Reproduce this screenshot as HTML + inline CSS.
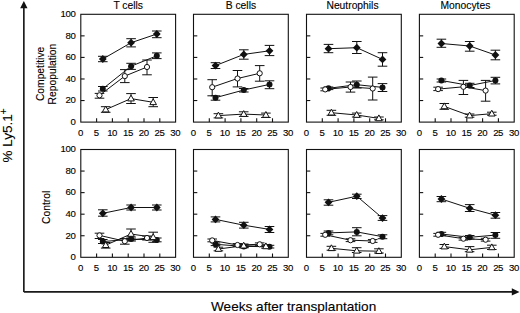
<!DOCTYPE html>
<html><head><meta charset="utf-8"><style>
html,body{margin:0;padding:0;background:#fff;}
body{width:520px;height:313px;overflow:hidden;position:relative;}
svg{position:absolute;left:0;top:0;}
text{font-family:"Liberation Sans",sans-serif;fill:#000;stroke:#000;stroke-width:0.12px;}
.tk{font-size:9.6px;letter-spacing:-0.4px;}
.ti{font-size:10.3px;}
.box{fill:none;stroke:#111;stroke-width:1.1;}
.ax{stroke:#111;stroke-width:1.1;}
.eb{fill:none;stroke:#111;stroke-width:1;}
.ln{fill:none;stroke:#111;stroke-width:1;}
.ot{fill:#fff;stroke:#111;stroke-width:1;}
.oc{fill:#fff;stroke:#111;stroke-width:1;}
.fc{fill:#111;stroke:none;}
.fd{fill:#111;stroke:none;}
.big{font-size:13.5px;}
.lab{font-size:10.3px;}
</style></head><body>
<svg width="520" height="313" viewBox="0 0 520 313">
<path d="M23.85 291.9V7.5M23.85 291.9H512" fill="none" stroke="#1a1a1a" stroke-width="1.65"/>
<path d="M23.85 1 L27.5 8.2 L20.2 8.2Z" fill="#111"/>
<path d="M519.5 291.95 L511.8 288.3 L511.8 295.6Z" fill="#111"/>
<text class="big" transform="translate(12.2,162.5) rotate(-90)">% Ly5.1<tspan dy="-5.1" dx="-0.2" font-size="10.5px">+</tspan></text>
<text class="lab" transform="translate(44.3,101.1) rotate(-90)">Competitive</text>
<text class="lab" transform="translate(56.1,104.4) rotate(-90)">Repopulation</text>
<text class="lab" transform="translate(49.9,224) rotate(-90)">Control</text>
<text class="big" x="211" y="310.9" style="font-size:13.6px">Weeks after transplantation</text>
<rect x="80.8" y="14.3" width="94.8" height="107.8" class="box"/>
<line x1="80.8" y1="100.54" x2="84.6" y2="100.54" class="ax"/>
<line x1="80.8" y1="78.98" x2="84.6" y2="78.98" class="ax"/>
<line x1="80.8" y1="57.42" x2="84.6" y2="57.42" class="ax"/>
<line x1="80.8" y1="35.86" x2="84.6" y2="35.86" class="ax"/>
<line x1="96.6" y1="122.1" x2="96.6" y2="118.3" class="ax"/>
<line x1="112.4" y1="122.1" x2="112.4" y2="118.3" class="ax"/>
<line x1="128.2" y1="122.1" x2="128.2" y2="118.3" class="ax"/>
<line x1="144" y1="122.1" x2="144" y2="118.3" class="ax"/>
<line x1="159.8" y1="122.1" x2="159.8" y2="118.3" class="ax"/>
<text x="80.5" y="135.6" class="tk" text-anchor="middle">0</text>
<text x="96.3" y="135.6" class="tk" text-anchor="middle">5</text>
<text x="112.1" y="135.6" class="tk" text-anchor="middle">10</text>
<text x="127.9" y="135.6" class="tk" text-anchor="middle">15</text>
<text x="143.7" y="135.6" class="tk" text-anchor="middle">20</text>
<text x="159.5" y="135.6" class="tk" text-anchor="middle">25</text>
<text x="175.3" y="135.6" class="tk" text-anchor="middle">30</text>
<text x="75.4" y="124.9" class="tk" text-anchor="end">0</text>
<text x="75.4" y="103.34" class="tk" text-anchor="end">20</text>
<text x="75.4" y="81.78" class="tk" text-anchor="end">40</text>
<text x="75.4" y="60.22" class="tk" text-anchor="end">60</text>
<text x="75.4" y="38.66" class="tk" text-anchor="end">80</text>
<text x="75.4" y="17.1" class="tk" text-anchor="end">100</text>
<text x="128.2" y="8.7" class="ti" text-anchor="middle">T cells</text>
<rect x="193.5" y="14.3" width="94.8" height="107.8" class="box"/>
<line x1="193.5" y1="100.54" x2="197.3" y2="100.54" class="ax"/>
<line x1="193.5" y1="78.98" x2="197.3" y2="78.98" class="ax"/>
<line x1="193.5" y1="57.42" x2="197.3" y2="57.42" class="ax"/>
<line x1="193.5" y1="35.86" x2="197.3" y2="35.86" class="ax"/>
<line x1="209.3" y1="122.1" x2="209.3" y2="118.3" class="ax"/>
<line x1="225.1" y1="122.1" x2="225.1" y2="118.3" class="ax"/>
<line x1="240.9" y1="122.1" x2="240.9" y2="118.3" class="ax"/>
<line x1="256.7" y1="122.1" x2="256.7" y2="118.3" class="ax"/>
<line x1="272.5" y1="122.1" x2="272.5" y2="118.3" class="ax"/>
<text x="193.2" y="135.6" class="tk" text-anchor="middle">0</text>
<text x="209" y="135.6" class="tk" text-anchor="middle">5</text>
<text x="224.8" y="135.6" class="tk" text-anchor="middle">10</text>
<text x="240.6" y="135.6" class="tk" text-anchor="middle">15</text>
<text x="256.4" y="135.6" class="tk" text-anchor="middle">20</text>
<text x="272.2" y="135.6" class="tk" text-anchor="middle">25</text>
<text x="288" y="135.6" class="tk" text-anchor="middle">30</text>
<text x="240.9" y="8.7" class="ti" text-anchor="middle">B cells</text>
<rect x="306.5" y="14.3" width="94.8" height="107.8" class="box"/>
<line x1="306.5" y1="100.54" x2="310.3" y2="100.54" class="ax"/>
<line x1="306.5" y1="78.98" x2="310.3" y2="78.98" class="ax"/>
<line x1="306.5" y1="57.42" x2="310.3" y2="57.42" class="ax"/>
<line x1="306.5" y1="35.86" x2="310.3" y2="35.86" class="ax"/>
<line x1="322.3" y1="122.1" x2="322.3" y2="118.3" class="ax"/>
<line x1="338.1" y1="122.1" x2="338.1" y2="118.3" class="ax"/>
<line x1="353.9" y1="122.1" x2="353.9" y2="118.3" class="ax"/>
<line x1="369.7" y1="122.1" x2="369.7" y2="118.3" class="ax"/>
<line x1="385.5" y1="122.1" x2="385.5" y2="118.3" class="ax"/>
<text x="306.2" y="135.6" class="tk" text-anchor="middle">0</text>
<text x="322" y="135.6" class="tk" text-anchor="middle">5</text>
<text x="337.8" y="135.6" class="tk" text-anchor="middle">10</text>
<text x="353.6" y="135.6" class="tk" text-anchor="middle">15</text>
<text x="369.4" y="135.6" class="tk" text-anchor="middle">20</text>
<text x="385.2" y="135.6" class="tk" text-anchor="middle">25</text>
<text x="401" y="135.6" class="tk" text-anchor="middle">30</text>
<text x="352.5" y="8.7" class="ti" text-anchor="middle">Neutrophils</text>
<rect x="419.4" y="14.3" width="94.8" height="107.8" class="box"/>
<line x1="419.4" y1="100.54" x2="423.2" y2="100.54" class="ax"/>
<line x1="419.4" y1="78.98" x2="423.2" y2="78.98" class="ax"/>
<line x1="419.4" y1="57.42" x2="423.2" y2="57.42" class="ax"/>
<line x1="419.4" y1="35.86" x2="423.2" y2="35.86" class="ax"/>
<line x1="435.2" y1="122.1" x2="435.2" y2="118.3" class="ax"/>
<line x1="451" y1="122.1" x2="451" y2="118.3" class="ax"/>
<line x1="466.8" y1="122.1" x2="466.8" y2="118.3" class="ax"/>
<line x1="482.6" y1="122.1" x2="482.6" y2="118.3" class="ax"/>
<line x1="498.4" y1="122.1" x2="498.4" y2="118.3" class="ax"/>
<text x="419.1" y="135.6" class="tk" text-anchor="middle">0</text>
<text x="434.9" y="135.6" class="tk" text-anchor="middle">5</text>
<text x="450.7" y="135.6" class="tk" text-anchor="middle">10</text>
<text x="466.5" y="135.6" class="tk" text-anchor="middle">15</text>
<text x="482.3" y="135.6" class="tk" text-anchor="middle">20</text>
<text x="498.1" y="135.6" class="tk" text-anchor="middle">25</text>
<text x="513.9" y="135.6" class="tk" text-anchor="middle">30</text>
<text x="465.4" y="8.7" class="ti" text-anchor="middle">Monocytes</text>
<rect x="80.8" y="149.5" width="94.8" height="107.8" class="box"/>
<line x1="80.8" y1="235.74" x2="84.6" y2="235.74" class="ax"/>
<line x1="80.8" y1="214.18" x2="84.6" y2="214.18" class="ax"/>
<line x1="80.8" y1="192.62" x2="84.6" y2="192.62" class="ax"/>
<line x1="80.8" y1="171.06" x2="84.6" y2="171.06" class="ax"/>
<line x1="96.6" y1="257.3" x2="96.6" y2="253.5" class="ax"/>
<line x1="112.4" y1="257.3" x2="112.4" y2="253.5" class="ax"/>
<line x1="128.2" y1="257.3" x2="128.2" y2="253.5" class="ax"/>
<line x1="144" y1="257.3" x2="144" y2="253.5" class="ax"/>
<line x1="159.8" y1="257.3" x2="159.8" y2="253.5" class="ax"/>
<text x="80.5" y="270.8" class="tk" text-anchor="middle">0</text>
<text x="96.3" y="270.8" class="tk" text-anchor="middle">5</text>
<text x="112.1" y="270.8" class="tk" text-anchor="middle">10</text>
<text x="127.9" y="270.8" class="tk" text-anchor="middle">15</text>
<text x="143.7" y="270.8" class="tk" text-anchor="middle">20</text>
<text x="159.5" y="270.8" class="tk" text-anchor="middle">25</text>
<text x="175.3" y="270.8" class="tk" text-anchor="middle">30</text>
<text x="75.4" y="260.1" class="tk" text-anchor="end">0</text>
<text x="75.4" y="238.54" class="tk" text-anchor="end">20</text>
<text x="75.4" y="216.98" class="tk" text-anchor="end">40</text>
<text x="75.4" y="195.42" class="tk" text-anchor="end">60</text>
<text x="75.4" y="173.86" class="tk" text-anchor="end">80</text>
<text x="75.4" y="152.3" class="tk" text-anchor="end">100</text>
<rect x="193.5" y="149.5" width="94.8" height="107.8" class="box"/>
<line x1="193.5" y1="235.74" x2="197.3" y2="235.74" class="ax"/>
<line x1="193.5" y1="214.18" x2="197.3" y2="214.18" class="ax"/>
<line x1="193.5" y1="192.62" x2="197.3" y2="192.62" class="ax"/>
<line x1="193.5" y1="171.06" x2="197.3" y2="171.06" class="ax"/>
<line x1="209.3" y1="257.3" x2="209.3" y2="253.5" class="ax"/>
<line x1="225.1" y1="257.3" x2="225.1" y2="253.5" class="ax"/>
<line x1="240.9" y1="257.3" x2="240.9" y2="253.5" class="ax"/>
<line x1="256.7" y1="257.3" x2="256.7" y2="253.5" class="ax"/>
<line x1="272.5" y1="257.3" x2="272.5" y2="253.5" class="ax"/>
<text x="193.2" y="270.8" class="tk" text-anchor="middle">0</text>
<text x="209" y="270.8" class="tk" text-anchor="middle">5</text>
<text x="224.8" y="270.8" class="tk" text-anchor="middle">10</text>
<text x="240.6" y="270.8" class="tk" text-anchor="middle">15</text>
<text x="256.4" y="270.8" class="tk" text-anchor="middle">20</text>
<text x="272.2" y="270.8" class="tk" text-anchor="middle">25</text>
<text x="288" y="270.8" class="tk" text-anchor="middle">30</text>
<rect x="306.5" y="149.5" width="94.8" height="107.8" class="box"/>
<line x1="306.5" y1="235.74" x2="310.3" y2="235.74" class="ax"/>
<line x1="306.5" y1="214.18" x2="310.3" y2="214.18" class="ax"/>
<line x1="306.5" y1="192.62" x2="310.3" y2="192.62" class="ax"/>
<line x1="306.5" y1="171.06" x2="310.3" y2="171.06" class="ax"/>
<line x1="322.3" y1="257.3" x2="322.3" y2="253.5" class="ax"/>
<line x1="338.1" y1="257.3" x2="338.1" y2="253.5" class="ax"/>
<line x1="353.9" y1="257.3" x2="353.9" y2="253.5" class="ax"/>
<line x1="369.7" y1="257.3" x2="369.7" y2="253.5" class="ax"/>
<line x1="385.5" y1="257.3" x2="385.5" y2="253.5" class="ax"/>
<text x="306.2" y="270.8" class="tk" text-anchor="middle">0</text>
<text x="322" y="270.8" class="tk" text-anchor="middle">5</text>
<text x="337.8" y="270.8" class="tk" text-anchor="middle">10</text>
<text x="353.6" y="270.8" class="tk" text-anchor="middle">15</text>
<text x="369.4" y="270.8" class="tk" text-anchor="middle">20</text>
<text x="385.2" y="270.8" class="tk" text-anchor="middle">25</text>
<text x="401" y="270.8" class="tk" text-anchor="middle">30</text>
<rect x="419.4" y="149.5" width="94.8" height="107.8" class="box"/>
<line x1="419.4" y1="235.74" x2="423.2" y2="235.74" class="ax"/>
<line x1="419.4" y1="214.18" x2="423.2" y2="214.18" class="ax"/>
<line x1="419.4" y1="192.62" x2="423.2" y2="192.62" class="ax"/>
<line x1="419.4" y1="171.06" x2="423.2" y2="171.06" class="ax"/>
<line x1="435.2" y1="257.3" x2="435.2" y2="253.5" class="ax"/>
<line x1="451" y1="257.3" x2="451" y2="253.5" class="ax"/>
<line x1="466.8" y1="257.3" x2="466.8" y2="253.5" class="ax"/>
<line x1="482.6" y1="257.3" x2="482.6" y2="253.5" class="ax"/>
<line x1="498.4" y1="257.3" x2="498.4" y2="253.5" class="ax"/>
<text x="419.1" y="270.8" class="tk" text-anchor="middle">0</text>
<text x="434.9" y="270.8" class="tk" text-anchor="middle">5</text>
<text x="450.7" y="270.8" class="tk" text-anchor="middle">10</text>
<text x="466.5" y="270.8" class="tk" text-anchor="middle">15</text>
<text x="482.3" y="270.8" class="tk" text-anchor="middle">20</text>
<text x="498.1" y="270.8" class="tk" text-anchor="middle">25</text>
<text x="513.9" y="270.8" class="tk" text-anchor="middle">30</text>
<path d="M105.7 106.7V112.3M100.9 106.7H110.5M100.9 112.3H110.5" class="eb"/>
<path d="M131 93.6V103.5M126.2 93.6H135.8M126.2 103.5H135.8" class="eb"/>
<path d="M153.2 97.5V106.7M148.4 97.5H158M148.4 106.7H158" class="eb"/>
<path d="M105.7 109.6 L131 98.6 L153.2 102.3" class="ln"/>
<path d="M99.5 93.4V98.2M94.7 93.4H104.3M94.7 98.2H104.3" class="eb"/>
<path d="M124.8 69.6V82.6M120 69.6H129.6M120 82.6H129.6" class="eb"/>
<path d="M147 60V74.8M142.2 60H151.8M142.2 74.8H151.8" class="eb"/>
<path d="M99.5 95.3 L124.8 76.1 L147 67" class="ln"/>
<path d="M102.8 86.5V91M98 86.5H107.6M98 91H107.6" class="eb"/>
<path d="M131.1 63.3V69.4M126.3 63.3H135.9M126.3 69.4H135.9" class="eb"/>
<path d="M156.8 52.9V58.6M152 52.9H161.6M152 58.6H161.6" class="eb"/>
<path d="M102.8 88.8 L131.1 66.2 L156.8 55.8" class="ln"/>
<path d="M102.8 56.3V61.7M98 56.3H107.6M98 61.7H107.6" class="eb"/>
<path d="M131.1 38.7V46.9M126.3 38.7H135.9M126.3 46.9H135.9" class="eb"/>
<path d="M156.8 31V37.7M152 31H161.6M152 37.7H161.6" class="eb"/>
<path d="M102.8 59 L131.1 42.7 L156.8 34" class="ln"/>
<circle cx="102.8" cy="88.8" r="3.0" class="fc"/>
<circle cx="131.1" cy="66.2" r="3.0" class="fc"/>
<circle cx="156.8" cy="55.8" r="3.0" class="fc"/>
<circle cx="99.5" cy="95.3" r="2.6" class="oc"/>
<circle cx="124.8" cy="76.1" r="2.6" class="oc"/>
<circle cx="147" cy="67" r="2.6" class="oc"/>
<path d="M105.7 106.12L109 111.92L102.4 111.92Z" class="ot"/>
<path d="M131 95.12L134.3 100.92L127.7 100.92Z" class="ot"/>
<path d="M153.2 98.82L156.5 104.62L149.9 104.62Z" class="ot"/>
<path d="M102.8 55.1L106.7 59L102.8 62.9L98.9 59Z" class="fd"/>
<path d="M131.1 38.8L135 42.7L131.1 46.6L127.2 42.7Z" class="fd"/>
<path d="M156.8 30.1L160.7 34L156.8 37.9L152.9 34Z" class="fd"/>
<path d="M218.4 113.7V117.9M213.6 113.7H223.2M213.6 117.9H223.2" class="eb"/>
<path d="M243.7 111.8V116.4M238.9 111.8H248.5M238.9 116.4H248.5" class="eb"/>
<path d="M265.9 113.1V117.5M261.1 113.1H270.7M261.1 117.5H270.7" class="eb"/>
<path d="M218.4 115.6 L243.7 114.1 L265.9 115" class="ln"/>
<path d="M212.2 79.7V95.8M207.4 79.7H217M207.4 95.8H217" class="eb"/>
<path d="M237.5 70.5V86.9M232.7 70.5H242.3M232.7 86.9H242.3" class="eb"/>
<path d="M259.7 65.6V81.2M254.9 65.6H264.5M254.9 81.2H264.5" class="eb"/>
<path d="M212.2 87.2 L237.5 78.5 L259.7 73.3" class="ln"/>
<path d="M215.5 95.8V100.2M210.7 95.8H220.3M210.7 100.2H220.3" class="eb"/>
<path d="M243.8 88.5V92M239 88.5H248.6M239 92H248.6" class="eb"/>
<path d="M269.5 80.8V88.7M264.7 80.8H274.3M264.7 88.7H274.3" class="eb"/>
<path d="M215.5 97.7 L243.8 90 L269.5 84.4" class="ln"/>
<path d="M215.5 62.7V68.5M210.7 62.7H220.3M210.7 68.5H220.3" class="eb"/>
<path d="M243.8 49.8V59.2M239 49.8H248.6M239 59.2H248.6" class="eb"/>
<path d="M269.5 45.4V55.6M264.7 45.4H274.3M264.7 55.6H274.3" class="eb"/>
<path d="M215.5 65.6 L243.8 54.4 L269.5 50.8" class="ln"/>
<circle cx="215.5" cy="97.7" r="3.0" class="fc"/>
<circle cx="243.8" cy="90" r="3.0" class="fc"/>
<circle cx="269.5" cy="84.4" r="3.0" class="fc"/>
<circle cx="212.2" cy="87.2" r="2.6" class="oc"/>
<circle cx="237.5" cy="78.5" r="2.6" class="oc"/>
<circle cx="259.7" cy="73.3" r="2.6" class="oc"/>
<path d="M218.4 112.12L221.7 117.92L215.1 117.92Z" class="ot"/>
<path d="M243.7 110.62L247 116.42L240.4 116.42Z" class="ot"/>
<path d="M265.9 111.52L269.2 117.32L262.6 117.32Z" class="ot"/>
<path d="M215.5 61.7L219.4 65.6L215.5 69.5L211.6 65.6Z" class="fd"/>
<path d="M243.8 50.5L247.7 54.4L243.8 58.3L239.9 54.4Z" class="fd"/>
<path d="M269.5 46.9L273.4 50.8L269.5 54.7L265.6 50.8Z" class="fd"/>
<path d="M331.4 110.3V115.3M326.6 110.3H336.2M326.6 115.3H336.2" class="eb"/>
<path d="M356.7 113.1V117M351.9 113.1H361.5M351.9 117H361.5" class="eb"/>
<path d="M378.9 117V119.8M374.1 117H383.7M374.1 119.8H383.7" class="eb"/>
<path d="M331.4 112.7 L356.7 115 L378.9 118.4" class="ln"/>
<path d="M325.2 88V90.8M320.4 88H330M320.4 90.8H330" class="eb"/>
<path d="M350.5 82V92.1M345.7 82H355.3M345.7 92.1H355.3" class="eb"/>
<path d="M372.7 77.1V100M367.9 77.1H377.5M367.9 100H377.5" class="eb"/>
<path d="M325.2 89.4 L350.5 87 L372.7 88.5" class="ln"/>
<path d="M328.5 87V89.6M323.7 87H333.3M323.7 89.6H333.3" class="eb"/>
<path d="M356.8 81V88M352 81H361.6M352 88H361.6" class="eb"/>
<path d="M382.5 83.6V91.5M377.7 83.6H387.3M377.7 91.5H387.3" class="eb"/>
<path d="M328.5 88.3 L356.8 84.7 L382.5 87.4" class="ln"/>
<path d="M328.5 44.4V52.7M323.7 44.4H333.3M323.7 52.7H333.3" class="eb"/>
<path d="M356.8 41.5V53.5M352 41.5H361.6M352 53.5H361.6" class="eb"/>
<path d="M382.5 52.7V66.2M377.7 52.7H387.3M377.7 66.2H387.3" class="eb"/>
<path d="M328.5 48.7 L356.8 47.7 L382.5 59.4" class="ln"/>
<circle cx="328.5" cy="88.3" r="3.0" class="fc"/>
<circle cx="356.8" cy="84.7" r="3.0" class="fc"/>
<circle cx="382.5" cy="87.4" r="3.0" class="fc"/>
<circle cx="325.2" cy="89.4" r="2.6" class="oc"/>
<circle cx="350.5" cy="87" r="2.6" class="oc"/>
<circle cx="372.7" cy="88.5" r="2.6" class="oc"/>
<path d="M331.4 109.22L334.7 115.02L328.1 115.02Z" class="ot"/>
<path d="M356.7 111.52L360 117.32L353.4 117.32Z" class="ot"/>
<path d="M378.9 114.92L382.2 120.72L375.6 120.72Z" class="ot"/>
<path d="M328.5 44.8L332.4 48.7L328.5 52.6L324.6 48.7Z" class="fd"/>
<path d="M356.8 43.8L360.7 47.7L356.8 51.6L352.9 47.7Z" class="fd"/>
<path d="M382.5 55.5L386.4 59.4L382.5 63.3L378.6 59.4Z" class="fd"/>
<path d="M444.3 103.5V109.3M439.5 103.5H449.1M439.5 109.3H449.1" class="eb"/>
<path d="M469.6 114V117.2M464.8 114H474.4M464.8 117.2H474.4" class="eb"/>
<path d="M491.8 112.2V115.2M487 112.2H496.6M487 115.2H496.6" class="eb"/>
<path d="M444.3 106.4 L469.6 115.6 L491.8 113.7" class="ln"/>
<path d="M438.1 87.2V90.6M433.3 87.2H442.9M433.3 90.6H442.9" class="eb"/>
<path d="M463.4 80.4V94.5M458.6 80.4H468.2M458.6 94.5H468.2" class="eb"/>
<path d="M485.6 80.4V101.2M480.8 80.4H490.4M480.8 101.2H490.4" class="eb"/>
<path d="M438.1 89.1 L463.4 86.8 L485.6 90.6" class="ln"/>
<path d="M441.4 79V82M436.6 79H446.2M436.6 82H446.2" class="eb"/>
<path d="M469.7 83.3V87.5M464.9 83.3H474.5M464.9 87.5H474.5" class="eb"/>
<path d="M495.4 77.3V83.9M490.6 77.3H500.2M490.6 83.9H500.2" class="eb"/>
<path d="M441.4 80.5 L469.7 85.5 L495.4 80.5" class="ln"/>
<path d="M441.4 39.2V47.3M436.6 39.2H446.2M436.6 47.3H446.2" class="eb"/>
<path d="M469.7 41.5V51.2M464.9 41.5H474.5M464.9 51.2H474.5" class="eb"/>
<path d="M495.4 50.2V59.8M490.6 50.2H500.2M490.6 59.8H500.2" class="eb"/>
<path d="M441.4 43.5 L469.7 46 L495.4 55" class="ln"/>
<circle cx="441.4" cy="80.5" r="3.0" class="fc"/>
<circle cx="469.7" cy="85.5" r="3.0" class="fc"/>
<circle cx="495.4" cy="80.5" r="3.0" class="fc"/>
<circle cx="438.1" cy="89.1" r="2.6" class="oc"/>
<circle cx="463.4" cy="86.8" r="2.6" class="oc"/>
<circle cx="485.6" cy="90.6" r="2.6" class="oc"/>
<path d="M444.3 102.92L447.6 108.72L441 108.72Z" class="ot"/>
<path d="M469.6 112.12L472.9 117.92L466.3 117.92Z" class="ot"/>
<path d="M491.8 110.22L495.1 116.02L488.5 116.02Z" class="ot"/>
<path d="M441.4 39.6L445.3 43.5L441.4 47.4L437.5 43.5Z" class="fd"/>
<path d="M469.7 42.1L473.6 46L469.7 49.9L465.8 46Z" class="fd"/>
<path d="M495.4 51.1L499.3 55L495.4 58.9L491.5 55Z" class="fd"/>
<path d="M105.7 242.5V248.1M100.9 242.5H110.5M100.9 248.1H110.5" class="eb"/>
<path d="M131 229V239M126.2 229H135.8M126.2 239H135.8" class="eb"/>
<path d="M153.2 232.2V242.3M148.4 232.2H158M148.4 242.3H158" class="eb"/>
<path d="M105.7 245.2 L131 234 L153.2 237.3" class="ln"/>
<path d="M99.5 233.2V238.5M94.7 233.2H104.3M94.7 238.5H104.3" class="eb"/>
<path d="M124.8 238.5V244.2M120 238.5H129.6M120 244.2H129.6" class="eb"/>
<path d="M147 236V240M142.2 236H151.8M142.2 240H151.8" class="eb"/>
<path d="M99.5 235.4 L124.8 241.2 L147 238" class="ln"/>
<path d="M102.8 239.5V243.5M98 239.5H107.6M98 243.5H107.6" class="eb"/>
<path d="M131.1 237V241M126.3 237H135.9M126.3 241H135.9" class="eb"/>
<path d="M156.8 238V241.8M152 238H161.6M152 241.8H161.6" class="eb"/>
<path d="M102.8 241.6 L131.1 239.1 L156.8 239.9" class="ln"/>
<path d="M102.8 209.8V216.2M98 209.8H107.6M98 216.2H107.6" class="eb"/>
<path d="M131.1 205V210M126.3 205H135.9M126.3 210H135.9" class="eb"/>
<path d="M156.8 205V210M152 205H161.6M152 210H161.6" class="eb"/>
<path d="M102.8 213.3 L131.1 207.5 L156.8 207.5" class="ln"/>
<circle cx="102.8" cy="241.6" r="3.0" class="fc"/>
<circle cx="131.1" cy="239.1" r="3.0" class="fc"/>
<circle cx="156.8" cy="239.9" r="3.0" class="fc"/>
<circle cx="99.5" cy="235.4" r="2.6" class="oc"/>
<circle cx="124.8" cy="241.2" r="2.6" class="oc"/>
<circle cx="147" cy="238" r="2.6" class="oc"/>
<path d="M105.7 241.72L109 247.52L102.4 247.52Z" class="ot"/>
<path d="M131 230.52L134.3 236.32L127.7 236.32Z" class="ot"/>
<path d="M153.2 233.82L156.5 239.62L149.9 239.62Z" class="ot"/>
<path d="M102.8 209.4L106.7 213.3L102.8 217.2L98.9 213.3Z" class="fd"/>
<path d="M131.1 203.6L135 207.5L131.1 211.4L127.2 207.5Z" class="fd"/>
<path d="M156.8 203.6L160.7 207.5L156.8 211.4L152.9 207.5Z" class="fd"/>
<path d="M218.4 247.2V250.8M213.6 247.2H223.2M213.6 250.8H223.2" class="eb"/>
<path d="M243.7 244V247.4M238.9 244H248.5M238.9 247.4H248.5" class="eb"/>
<path d="M265.9 244.7V248.1M261.1 244.7H270.7M261.1 248.1H270.7" class="eb"/>
<path d="M218.4 249 L243.7 245.7 L265.9 246.4" class="ln"/>
<path d="M212.2 239V241.8M207.4 239H217M207.4 241.8H217" class="eb"/>
<path d="M237.5 243.6V246.4M232.7 243.6H242.3M232.7 246.4H242.3" class="eb"/>
<path d="M259.7 242.9V245.7M254.9 242.9H264.5M254.9 245.7H264.5" class="eb"/>
<path d="M212.2 240.4 L237.5 245 L259.7 244.3" class="ln"/>
<path d="M215.5 243V245.6M210.7 243H220.3M210.7 245.6H220.3" class="eb"/>
<path d="M243.8 245V247.8M239 245H248.6M239 247.8H248.6" class="eb"/>
<path d="M269.5 245.3V248M264.7 245.3H274.3M264.7 248H274.3" class="eb"/>
<path d="M215.5 244.3 L243.8 246.4 L269.5 246.7" class="ln"/>
<path d="M215.5 216.9V221.9M210.7 216.9H220.3M210.7 221.9H220.3" class="eb"/>
<path d="M243.8 222.3V228.1M239 222.3H248.6M239 228.1H248.6" class="eb"/>
<path d="M269.5 226.5V232.5M264.7 226.5H274.3M264.7 232.5H274.3" class="eb"/>
<path d="M215.5 219.4 L243.8 225.2 L269.5 229.4" class="ln"/>
<circle cx="215.5" cy="244.3" r="3.0" class="fc"/>
<circle cx="243.8" cy="246.4" r="3.0" class="fc"/>
<circle cx="269.5" cy="246.7" r="3.0" class="fc"/>
<circle cx="212.2" cy="240.4" r="2.6" class="oc"/>
<circle cx="237.5" cy="245" r="2.6" class="oc"/>
<circle cx="259.7" cy="244.3" r="2.6" class="oc"/>
<path d="M218.4 245.52L221.7 251.32L215.1 251.32Z" class="ot"/>
<path d="M243.7 242.22L247 248.02L240.4 248.02Z" class="ot"/>
<path d="M265.9 242.92L269.2 248.72L262.6 248.72Z" class="ot"/>
<path d="M215.5 215.5L219.4 219.4L215.5 223.3L211.6 219.4Z" class="fd"/>
<path d="M243.8 221.3L247.7 225.2L243.8 229.1L239.9 225.2Z" class="fd"/>
<path d="M269.5 225.5L273.4 229.4L269.5 233.3L265.6 229.4Z" class="fd"/>
<path d="M331.4 246.3V250.2M326.6 246.3H336.2M326.6 250.2H336.2" class="eb"/>
<path d="M356.7 247.7V252.5M351.9 247.7H361.5M351.9 252.5H361.5" class="eb"/>
<path d="M378.9 248.8V253M374.1 248.8H383.7M374.1 253H383.7" class="eb"/>
<path d="M331.4 248.3 L356.7 250.8 L378.9 251.2" class="ln"/>
<path d="M325.2 233.4V236.2M320.4 233.4H330M320.4 236.2H330" class="eb"/>
<path d="M350.5 238.8V241.6M345.7 238.8H355.3M345.7 241.6H355.3" class="eb"/>
<path d="M372.7 239.6V242.4M367.9 239.6H377.5M367.9 242.4H377.5" class="eb"/>
<path d="M325.2 234.8 L350.5 240.2 L372.7 241" class="ln"/>
<path d="M328.5 231V234.8M323.7 231H333.3M323.7 234.8H333.3" class="eb"/>
<path d="M356.8 227.7V235.8M352 227.7H361.6M352 235.8H361.6" class="eb"/>
<path d="M382.5 234.8V238.7M377.7 234.8H387.3M377.7 238.7H387.3" class="eb"/>
<path d="M328.5 232.9 L356.8 231.9 L382.5 236.7" class="ln"/>
<path d="M328.5 199.8V205.2M323.7 199.8H333.3M323.7 205.2H333.3" class="eb"/>
<path d="M356.8 194.2V198.5M352 194.2H361.6M352 198.5H361.6" class="eb"/>
<path d="M382.5 215.6V220.4M377.7 215.6H387.3M377.7 220.4H387.3" class="eb"/>
<path d="M328.5 202.3 L356.8 196.2 L382.5 218.1" class="ln"/>
<circle cx="328.5" cy="232.9" r="3.0" class="fc"/>
<circle cx="356.8" cy="231.9" r="3.0" class="fc"/>
<circle cx="382.5" cy="236.7" r="3.0" class="fc"/>
<circle cx="325.2" cy="234.8" r="2.6" class="oc"/>
<circle cx="350.5" cy="240.2" r="2.6" class="oc"/>
<circle cx="372.7" cy="241" r="2.6" class="oc"/>
<path d="M331.4 244.82L334.7 250.62L328.1 250.62Z" class="ot"/>
<path d="M356.7 247.32L360 253.12L353.4 253.12Z" class="ot"/>
<path d="M378.9 247.72L382.2 253.52L375.6 253.52Z" class="ot"/>
<path d="M328.5 198.4L332.4 202.3L328.5 206.2L324.6 202.3Z" class="fd"/>
<path d="M356.8 192.3L360.7 196.2L356.8 200.1L352.9 196.2Z" class="fd"/>
<path d="M382.5 214.2L386.4 218.1L382.5 222L378.6 218.1Z" class="fd"/>
<path d="M444.3 244.5V248.4M439.5 244.5H449.1M439.5 248.4H449.1" class="eb"/>
<path d="M469.6 246.6V251.7M464.8 246.6H474.4M464.8 251.7H474.4" class="eb"/>
<path d="M491.8 245.2V249.5M487 245.2H496.6M487 249.5H496.6" class="eb"/>
<path d="M444.3 246.6 L469.6 249.8 L491.8 247.4" class="ln"/>
<path d="M438.1 233.4V236.2M433.3 233.4H442.9M433.3 236.2H442.9" class="eb"/>
<path d="M463.4 237.3V240.1M458.6 237.3H468.2M458.6 240.1H468.2" class="eb"/>
<path d="M485.6 238.3V241.1M480.8 238.3H490.4M480.8 241.1H490.4" class="eb"/>
<path d="M438.1 234.8 L463.4 238.7 L485.6 239.7" class="ln"/>
<path d="M441.4 232.3V235.7M436.6 232.3H446.2M436.6 235.7H446.2" class="eb"/>
<path d="M469.7 235.5V239M464.9 235.5H474.5M464.9 239H474.5" class="eb"/>
<path d="M495.4 232.5V238.3M490.6 232.5H500.2M490.6 238.3H500.2" class="eb"/>
<path d="M441.4 234 L469.7 237.3 L495.4 235.1" class="ln"/>
<path d="M441.4 196.5V201.7M436.6 196.5H446.2M436.6 201.7H446.2" class="eb"/>
<path d="M469.7 204.6V211.5M464.9 204.6H474.5M464.9 211.5H474.5" class="eb"/>
<path d="M495.4 212.5V218.2M490.6 212.5H500.2M490.6 218.2H500.2" class="eb"/>
<path d="M441.4 199 L469.7 208.3 L495.4 215.2" class="ln"/>
<circle cx="441.4" cy="234" r="3.0" class="fc"/>
<circle cx="469.7" cy="237.3" r="3.0" class="fc"/>
<circle cx="495.4" cy="235.1" r="3.0" class="fc"/>
<circle cx="438.1" cy="234.8" r="2.6" class="oc"/>
<circle cx="463.4" cy="238.7" r="2.6" class="oc"/>
<circle cx="485.6" cy="239.7" r="2.6" class="oc"/>
<path d="M444.3 243.12L447.6 248.92L441 248.92Z" class="ot"/>
<path d="M469.6 246.32L472.9 252.12L466.3 252.12Z" class="ot"/>
<path d="M491.8 243.92L495.1 249.72L488.5 249.72Z" class="ot"/>
<path d="M441.4 195.1L445.3 199L441.4 202.9L437.5 199Z" class="fd"/>
<path d="M469.7 204.4L473.6 208.3L469.7 212.2L465.8 208.3Z" class="fd"/>
<path d="M495.4 211.3L499.3 215.2L495.4 219.1L491.5 215.2Z" class="fd"/>
</svg>
</body></html>
